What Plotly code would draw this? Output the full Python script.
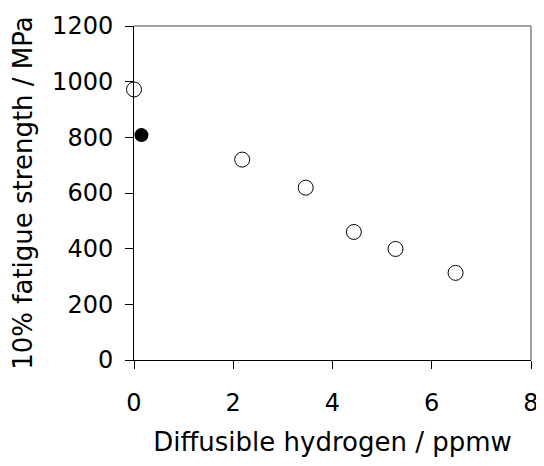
import plotly.graph_objects as go

# Data
open_x = [0.0, 2.18, 3.46, 4.43, 5.27, 6.48]
open_y = [972, 720, 619, 460, 399, 313]
filled_x = [0.15]
filled_y = [808]

x_ticks = [0, 2, 4, 6, 8]
y_ticks = [0, 200, 400, 600, 800, 1000, 1200]

FONT = "DejaVu Sans"

fig = go.Figure()
fig.add_trace(go.Scatter(
    x=open_x, y=open_y, mode="markers",
    marker=dict(symbol="circle-open", size=15, color="black", line=dict(width=1, color="black")),
    showlegend=False, cliponaxis=False,
))
fig.add_trace(go.Scatter(
    x=filled_x, y=filled_y, mode="markers",
    marker=dict(symbol="circle", size=14, color="black"),
    showlegend=False, cliponaxis=False,
))

# gray top and right border
fig.add_shape(type="line", xref="paper", yref="paper", x0=0, x1=1, y0=1, y1=1,
              line=dict(color="#808080", width=1.5))
fig.add_shape(type="line", xref="paper", yref="paper", x0=1, x1=1, y0=0, y1=1,
              line=dict(color="#808080", width=1.5))

fig.update_layout(
    width=536, height=458,
    margin=dict(l=126, r=13, t=18, b=106),
    plot_bgcolor="white", paper_bgcolor="white",
    font=dict(family=FONT, color="black", size=24),
    xaxis=dict(
        range=[0, 8], tickvals=x_ticks, ticktext=[str(v) for v in x_ticks],
        showgrid=False, zeroline=False, showline=True, linecolor="black", linewidth=1,
        ticks="outside", ticklen=8, tickcolor="black", tickfont=dict(size=24),
        ticklabelstandoff=13, automargin=False,
        title=dict(text="Diffusible hydrogen / ppmw", font=dict(size=26), standoff=17),
    ),
    yaxis=dict(
        range=[0, 1200], tickvals=y_ticks, ticktext=[str(v) for v in y_ticks],
        showgrid=False, zeroline=False, showline=True, linecolor="black", linewidth=1,
        ticks="outside", ticklen=8, tickcolor="black", tickfont=dict(size=24),
        ticklabelstandoff=7, automargin=False,
        title=dict(text="10% fatigue strength / MPa", font=dict(size=26), standoff=22),
    ),
)

fig.write_html("out.html")
